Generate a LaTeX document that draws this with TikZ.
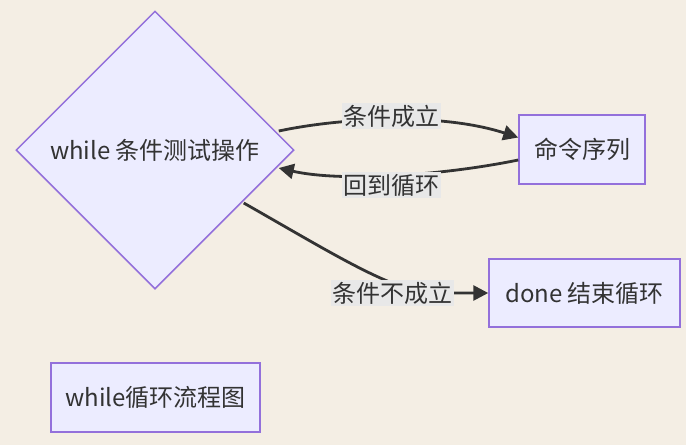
\documentclass[tikz,border=0pt]{standalone}
\usepackage{fontspec}
\setmainfont{Noto Sans CJK SC}
\usetikzlibrary{shapes.geometric,arrows.meta,calc}
\definecolor{bgc}{RGB}{244,238,228}
\definecolor{nodefill}{HTML}{ECECFF}
\definecolor{nodeline}{HTML}{9370DB}
\definecolor{txt}{HTML}{333333}
\definecolor{lblbg}{RGB}{232,232,232}
\begin{document}
\begin{tikzpicture}[x=1pt,y=-1pt,
  every node/.style={font=\fontsize{24}{28}\selectfont, text=txt},
  box/.style={draw=nodeline, fill=nodefill, line width=1.5pt, rectangle, inner sep=0pt},
  dia/.style={draw=nodeline, fill=nodefill, line width=1.5pt, diamond, aspect=1, minimum width=278pt, minimum height=278pt, inner sep=0pt},
  edge/.style={draw=txt, line width=2.8pt, -{Triangle[length=15pt,width=15pt]}},
  lbl/.style={fill=lblbg, inner sep=1.5pt}]
\fill[bgc] (0,0) rectangle (686,445);
\useasboundingbox (0,0) rectangle (686,445);
\node[dia] (d) at (155,150) {while 条件测试操作};
\node[box, minimum width=126pt, minimum height=69pt] (cmd) at (582,149.5) {命令序列};
\node[box, minimum width=191pt, minimum height=68pt] (done) at (584.5,293) {done 结束循环};
\node[box, minimum width=209pt, minimum height=69pt] (title) at (155.5,397.5) {while循环流程图};
% edges
\draw[edge] ($(d.east)+(-16,-19)$) .. controls (340,118) and (440,112) .. ($(cmd.west)+(0,-12)$);
\draw[edge] ($(cmd.west)+(0,10.5)$) .. controls (440,176) and (340,182) .. ($(d.east)+(-16,18)$);
\draw[edge] ($(d.east)+(-51,53)$) .. controls (330,252) and (390,290) .. (430,293) -- (done.west);
% labels
\node[lbl] (l1) at (391,116) {条件成立};
\node[lbl] (l2) at (391,185) {回到循环};
\node[lbl] (l3) at (392,293) {条件不成立};
\end{tikzpicture}
\end{document}
